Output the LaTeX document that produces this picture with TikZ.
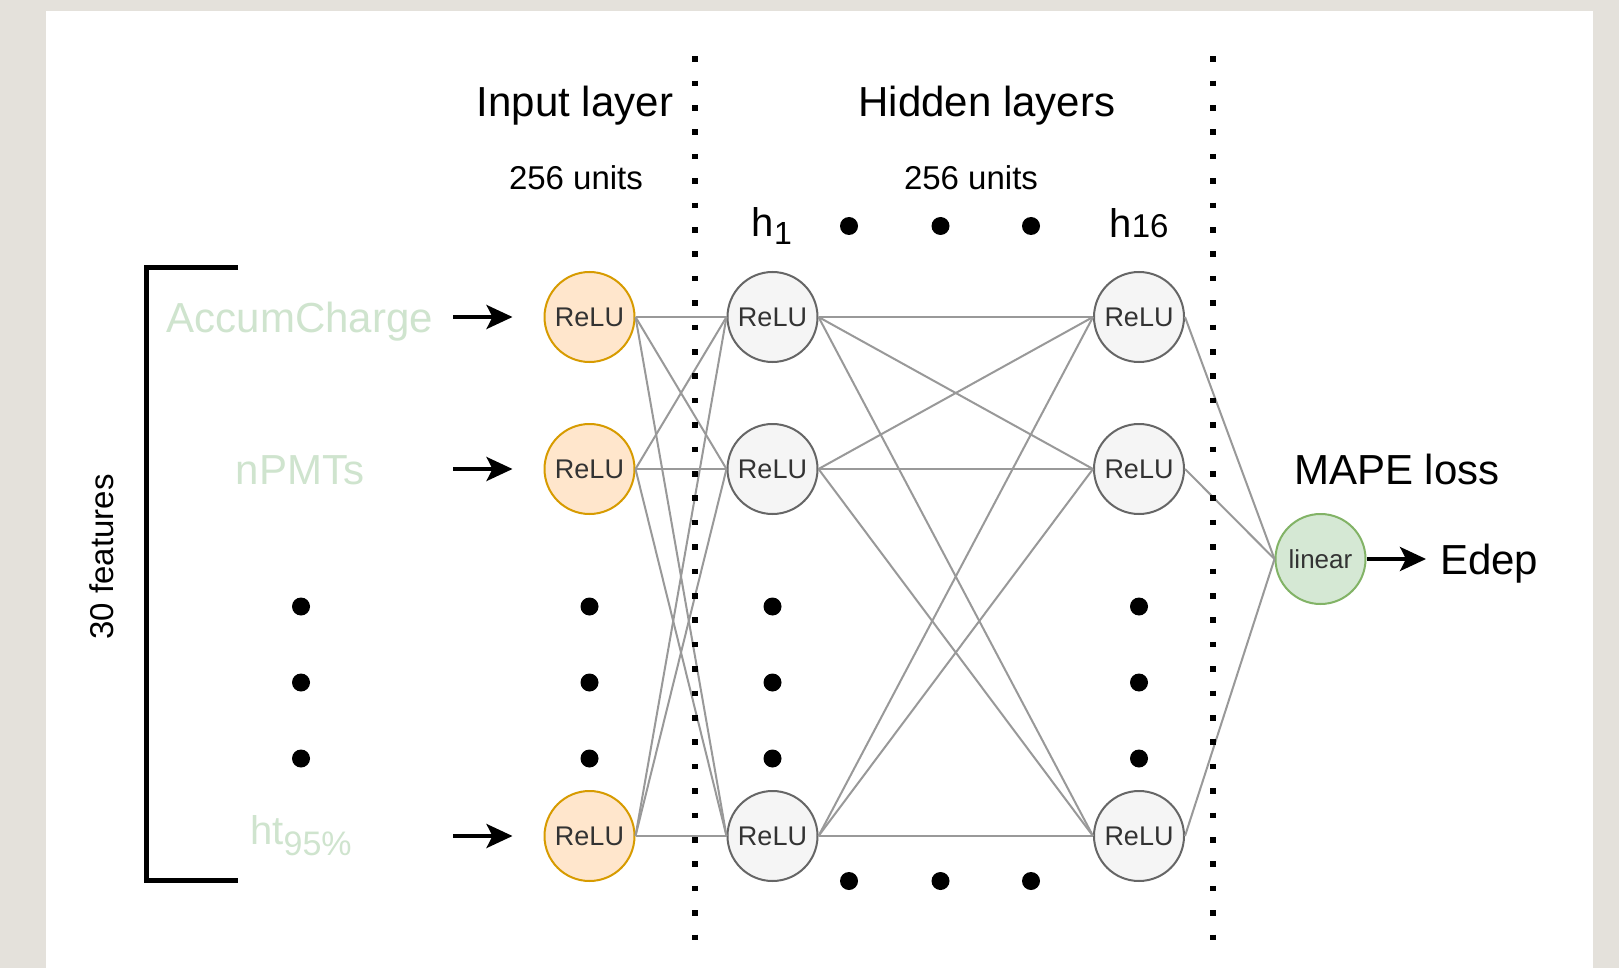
\documentclass[tikz,border=0pt]{standalone}
\usepackage{fontspec}
\setmainfont{Liberation Sans}
\usetikzlibrary{arrows.meta}

\definecolor{bggray}{HTML}{E4E1DB}
\definecolor{inFill}{HTML}{FFE6CC}
\definecolor{inDraw}{HTML}{D79B00}
\definecolor{hidFill}{HTML}{F5F5F5}
\definecolor{hidDraw}{HTML}{666666}
\definecolor{outFill}{HTML}{D5E8D4}
\definecolor{outDraw}{HTML}{82B366}
\definecolor{featText}{HTML}{CFE4CE}
\definecolor{edgeGray}{HTML}{999999}
\definecolor{cellText}{HTML}{333333}

\newcommand\pxfont[1]{\fontsize{#1}{#1}\selectfont}

\begin{document}
\begin{tikzpicture}[x=1pt,y=-1pt,
  unit/.style={circle, minimum size=90pt, inner sep=0pt, line width=2pt,
               font=\pxfont{27}, text=cellText},
  inunit/.style={unit, draw=inDraw, fill=inFill},
  hidunit/.style={unit, draw=hidDraw, fill=hidFill},
  outunit/.style={unit, draw=outDraw, fill=outFill, font=\pxfont{26}},
  link/.style={draw=edgeGray, line width=2pt},
  sep/.style={line width=5.5pt, dash pattern=on 5.5pt off 18.9pt},
  feed/.style={line width=3.5pt, -{Stealth[length=26pt,width=24pt,inset=6pt]}},
  ell/.style={circle, fill=black, inner sep=0pt, minimum size=18pt},
  big/.style={font=\pxfont{42}, inner sep=0pt, anchor=base},
  small/.style={font=\pxfont{33}, inner sep=0pt, anchor=base},
  feat/.style={big, text=featText},
]
\useasboundingbox (0,0) rectangle (1619,968);

% page and panel
\fill[bggray] (0,0) rectangle (1619,968);
\fill[white] (46,11) rectangle (1593,968);

% headings
\node[big]   (tin)  at (575,117) {Input layer};
\node[small] (uin)  at (576,190) {256 units};
\node[big]   (thid) at (987,117) {Hidden layers};
\node[small] (uhid) at (971,190) {256 units};
\node[anchor=base, inner sep=0pt] (lh1) at (772,237)
  {\pxfont{40}h\raisebox{-8pt}{\pxfont{32}1}};
\node[anchor=base, inner sep=0pt] (lh16) at (1139,238)
  {\pxfont{40}h\pxfont{33}16};
\node[big] (loss) at (1397,484) {MAPE loss};

% input features
\node[feat] (fa) at (300,332) {AccumCharge};
\node[feat] (fb) at (300,484) {nPMTs};
\node[anchor=base, inner sep=0pt, text=featText] (fc) at (301,844)
  {\pxfont{40}ht\raisebox{-11pt}{\pxfont{34}95\%}};
\node[small, rotate=90] (nfeat) at (113.5,557) {30 features};

% bracket around the features
\draw[line width=5pt] (238,268) -- (146,268) -- (146,880) -- (238,880);

% units
\node[inunit]  (i1) at (589.5,317) {ReLU};
\node[inunit]  (i2) at (589.5,469) {ReLU};
\node[inunit]  (i3) at (589.5,836) {ReLU};
\node[hidunit] (a1) at (772.5,317) {ReLU};
\node[hidunit] (a2) at (772.5,469) {ReLU};
\node[hidunit] (a3) at (772.5,836) {ReLU};
\node[hidunit] (b1) at (1139,317) {ReLU};
\node[hidunit] (b2) at (1139,469) {ReLU};
\node[hidunit] (b3) at (1139,836) {ReLU};
\node[outunit] (o)  at (1320.5,559) {linear};
\node[big, anchor=base west] (edep) at (1440,574) {Edep};

% dense connections
\foreach \p in {1,2,3}{
  \foreach \q in {1,2,3}{
    \draw[link] (i\p.east) -- (a\q.west);
    \draw[link] (a\p.east) -- (b\q.west);
  }
  \draw[link] (b\p.east) -- (o.west);
}

% layer separators
\coordinate (s1t) at (695,56.25);
\coordinate (s1b) at (695,940);
\coordinate (s2t) at (1213,56.25);
\coordinate (s2b) at (1213,940);
\draw[sep] (s1t) -- (s1b);
\draw[sep] (s2t) -- (s2b);

% input arrows
\coordinate (f1) at (453,317);
\coordinate (f2) at (453,469);
\coordinate (f3) at (453,836);
\draw[feed, shorten >=31pt] (f1) -- (i1);
\draw[feed, shorten >=31pt] (f2) -- (i2);
\draw[feed, shorten >=31pt] (f3) -- (i3);

% output arrow
\coordinate (otip) at (1426,559);
\draw[feed] (o.east) -- (otip);

% ellipsis dots
\foreach \x [count=\k] in {301,589.5,772.5,1139}{
  \foreach \y [count=\m] in {606.5,682.5,758.5}{
    \node[ell] (v\k\m) at (\x,\y) {};
  }
}
\foreach \x [count=\k] in {849,940.5,1031}{
  \node[ell] (ht\k) at (\x,226) {};
  \node[ell] (hb\k) at (\x,881) {};
}
\end{tikzpicture}
\end{document}
